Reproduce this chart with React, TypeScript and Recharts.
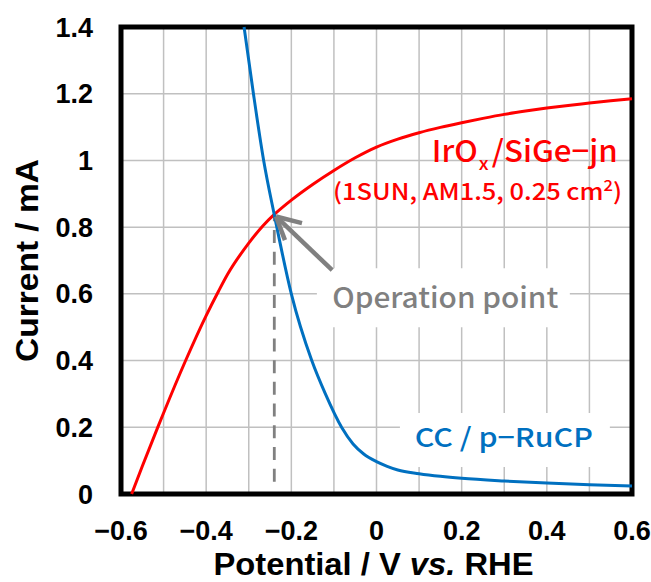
import React from 'react';
import {
  LineChart,
  Line,
  XAxis,
  YAxis,
  CartesianGrid,
  ReferenceLine,
  ReferenceArea,
  ReferenceDot,
} from 'recharts';

// IrOx/SiGe-jn photoanode (1 SUN, AM1.5, 0.25 cm2)
const irPotential = [-0.575, -0.55, -0.514, -0.5, -0.45, -0.4, -0.371, -0.35, -0.3, -0.266, -0.24, -0.2, -0.15, -0.1, -0.05, 0, 0.05, 0.1, 0.15, 0.2, 0.25, 0.3, 0.35, 0.4, 0.45, 0.5, 0.55, 0.6];
const irCurrent = [0, 0.083, 0.199, 0.243, 0.395, 0.535, 0.608, 0.658, 0.752, 0.805, 0.838, 0.881, 0.928, 0.97, 1.008, 1.04, 1.064, 1.083, 1.099, 1.113, 1.126, 1.138, 1.148, 1.157, 1.165, 1.172, 1.179, 1.185];

// CC/p-RuCP cathode
const ruPotential = [-0.311, -0.289, -0.265, -0.24, -0.2, -0.152, -0.12, -0.082, -0.055, -0.03, 0, 0.025, 0.05, 0.1, 0.15, 0.2, 0.3, 0.4, 0.5, 0.6];
const ruCurrent = [1.4, 1.2, 1.0, 0.837, 0.6, 0.4, 0.3, 0.2, 0.15, 0.12, 0.097, 0.083, 0.072, 0.061, 0.053, 0.047, 0.039, 0.033, 0.028, 0.024];

const xTicks = [-0.6, -0.4, -0.2, 0, 0.2, 0.4, 0.6];
const yTicks = [0, 0.2, 0.4, 0.6, 0.8, 1, 1.2, 1.4];
const xGrid = [-0.5, -0.4, -0.3, -0.2, -0.1, 0, 0.1, 0.2, 0.3, 0.4, 0.5];
const yGrid = [0.2, 0.4, 0.6, 0.8, 1, 1.2];

// operation point and annotation anchors (data coordinates)
const opPoint = { x: -0.24, y: 0.837 };
const arrowTip = { x: -0.236, y: 0.832 };
const arrowTail = { x: -0.104, y: 0.671 };
const arrowWingA = { x: -0.175, y: 0.812 };
const arrowWingB = { x: -0.215, y: 0.761 };

const irData = irPotential.map((x, i) => ({ x, y: irCurrent[i] }));
const ruData = ruPotential.map((x, i) => ({ x, y: ruCurrent[i] }));

const TICK_FONT = "'Liberation Sans', Arial, sans-serif";
const JP_FONT = "'Noto Sans CJK JP', 'Noto Sans', sans-serif";
const GRAY = '#808080';

const fmtX = (v: number) => (v < 0 ? '\u2212' + String(Math.abs(v)) : String(v));

const YTitle = (props: any) => {
  const vb = props.viewBox || { x: 0, y: 27, width: 121, height: 467 };
  const x = vb.x + 38;
  const cy = vb.y + vb.height / 2;
  return (
    <text
      x={x}
      y={cy}
      transform={`rotate(-90, ${x}, ${cy})`}
      textAnchor="middle"
      fontFamily={TICK_FONT}
      fontWeight="bold"
      fontSize={32}
      fill="#000"
      textLength={203}
      lengthAdjust="spacingAndGlyphs"
    >
      Current / mA
    </text>
  );
};

const XTitle = (props: any) => {
  const vb = props.viewBox || { x: 121, y: 494, width: 511, height: 88 };
  const cx = vb.x + vb.width / 2 - 3;
  const y = vb.y + 81;
  return (
    <text
      x={cx}
      y={y}
      textAnchor="middle"
      fontFamily={TICK_FONT}
      fontWeight="bold"
      fontSize={32}
      fill="#000"
      textLength={320}
      lengthAdjust="spacingAndGlyphs"
    >
      Potential / V <tspan fontStyle="italic">vs.</tspan> RHE
    </text>
  );
};

const IrLabel = (p: any) => (
  <text
    x={p.cx}
    y={p.cy}
    fill="#FF0000"
    fontFamily={JP_FONT}
    fontWeight={500}
    fontSize={30}
    textLength={186}
    lengthAdjust="spacingAndGlyphs"
  >
    IrO<tspan fontSize={18} dy={8} dx={1}>x</tspan><tspan dy={-8} dx={3}>/SiGe−jn</tspan>
  </text>
);

const CondLabel = (p: any) => (
  <text
    x={p.cx}
    y={p.cy}
    fill="#FF0000"
    fontFamily={JP_FONT}
    fontWeight={500}
    fontSize={23}
    textLength={289}
    lengthAdjust="spacingAndGlyphs"
  >
    (1SUN, AM1.5, 0.25 cm<tspan fontSize={15} dy={-9}>2</tspan><tspan dy={9}>)</tspan>
  </text>
);

const OpLabel = (p: any) => (
  <text
    x={p.cx}
    y={p.cy}
    fill={GRAY}
    fontFamily={JP_FONT}
    fontWeight={500}
    fontSize={28}
    textLength={226}
    lengthAdjust="spacingAndGlyphs"
  >
    Operation point
  </text>
);

const RuLabel = (p: any) => (
  <text
    x={p.cx}
    y={p.cy}
    fill="#0070C0"
    fontFamily={JP_FONT}
    fontWeight={500}
    fontSize={26}
    textLength={178}
    lengthAdjust="spacingAndGlyphs"
  >
    CC / p−RuCP
  </text>
);

export default function App() {
  return (
    <div style={{ position: 'absolute', left: 0, top: 0, background: '#fff' }}>
      <LineChart width={651} height={582} margin={{ top: 27, right: 19, bottom: 0, left: 0 }}>
        <CartesianGrid
          stroke="#C0C0C0"
          strokeWidth={1.5}
          verticalValues={xGrid}
          horizontalValues={yGrid}
        />
        <XAxis
          type="number"
          dataKey="x"
          domain={[-0.6, 0.6]}
          ticks={xTicks}
          tickFormatter={fmtX}
          height={88}
          axisLine={false}
          tickLine={false}
          tickSize={0}
          tickMargin={27}
          interval={0}
          tick={{ fontFamily: TICK_FONT, fontWeight: 'bold', fontSize: 27, fill: '#000' }}
          label={<XTitle />}
        />
        <YAxis
          type="number"
          domain={[0, 1.4]}
          ticks={yTicks}
          width={121}
          axisLine={false}
          tickLine={false}
          tickSize={0}
          tickMargin={28}
          interval={0}
          tick={{ fontFamily: TICK_FONT, fontWeight: 'bold', fontSize: 27, fill: '#000' }}
          label={<YTitle />}
        />
        <ReferenceArea x1={-0.14} x2={0.454} y1={0.5} y2={0.677} fill="#fff" fillOpacity={1} stroke="none" />
        <ReferenceArea x1={0.055} x2={0.548} y1={0.081} y2={0.243} fill="#fff" fillOpacity={1} stroke="none" />
        <ReferenceLine
          segment={[{ x: opPoint.x, y: 0.037 }, { x: opPoint.x, y: opPoint.y }]}
          stroke={GRAY}
          strokeWidth={2.8}
          strokeDasharray="13 8.7"
        />
        <Line data={irData} dataKey="y" type="monotone" stroke="#FF0000" strokeWidth={3} dot={false} isAnimationActive={false} />
        <Line data={ruData} dataKey="y" type="monotone" stroke="#0070C0" strokeWidth={3} dot={false} isAnimationActive={false} />
        <ReferenceLine segment={[arrowTail, arrowTip]} stroke={GRAY} strokeWidth={4.5} />
        <ReferenceLine segment={[arrowTip, arrowWingA]} stroke={GRAY} strokeWidth={4.5} />
        <ReferenceLine segment={[arrowTip, arrowWingB]} stroke={GRAY} strokeWidth={4.5} />
        <ReferenceArea x1={-0.6} x2={0.6} y1={0} y2={1.4} fill="none" stroke="#000" strokeWidth={5} />
        <ReferenceDot x={0.13} y={0.995} r={0} shape={IrLabel} />
        <ReferenceDot x={-0.102} y={0.881} r={0} shape={CondLabel} />
        <ReferenceDot x={-0.104} y={0.558} r={0} shape={OpLabel} />
        <ReferenceDot x={0.09} y={0.141} r={0} shape={RuLabel} />
      </LineChart>
    </div>
  );
}
